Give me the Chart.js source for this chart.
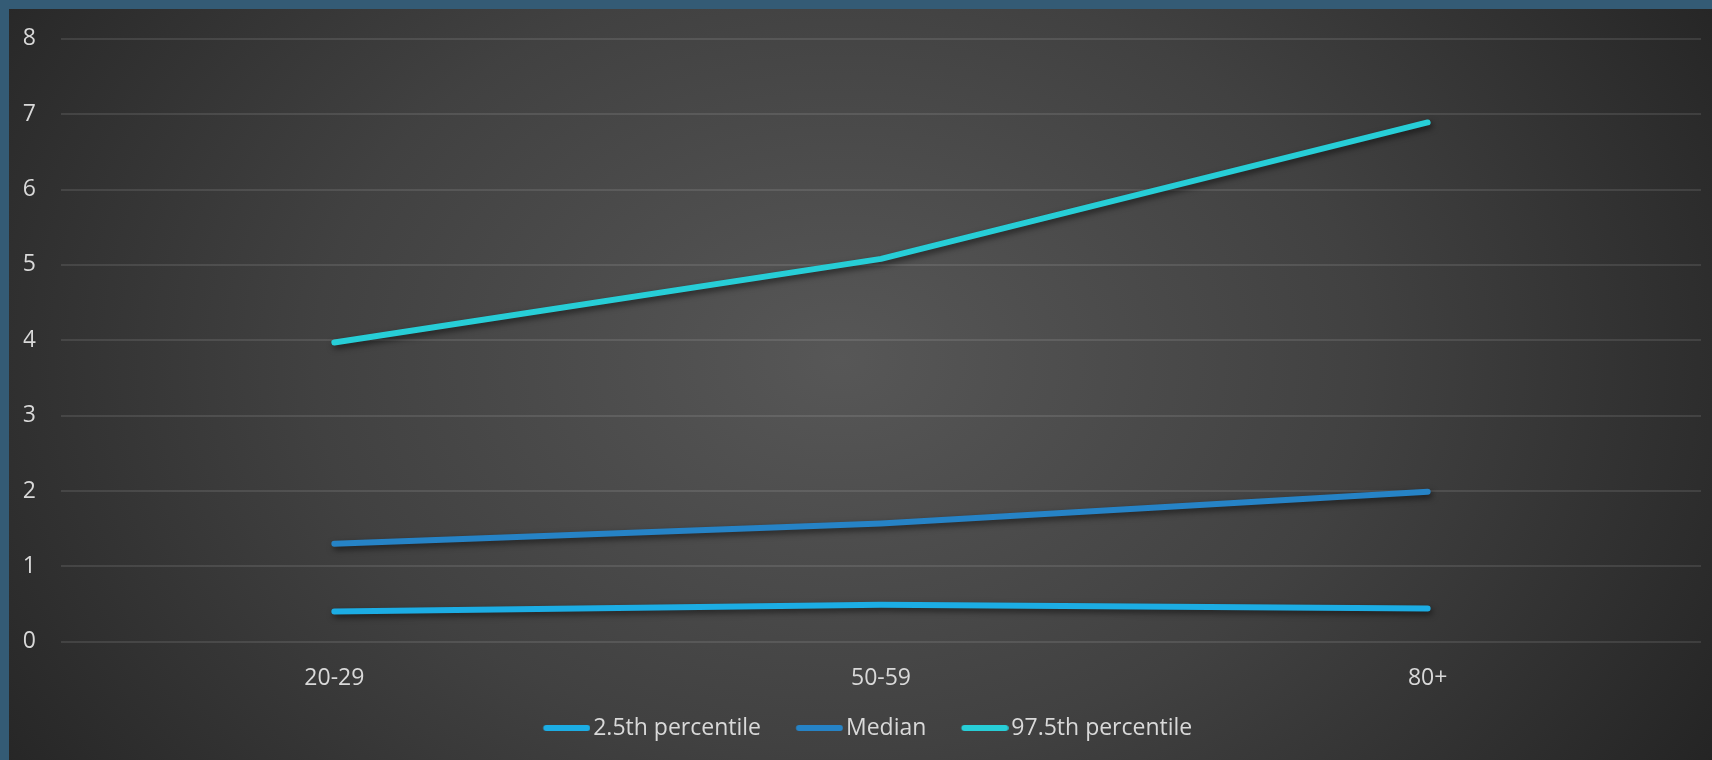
<!DOCTYPE html>
<html>
<head>
<meta charset="utf-8">
<script src="https://cdn.jsdelivr.net/npm/chart.js@4/dist/chart.umd.min.js"></script>
<style>
  html, body { margin: 0; padding: 0; background: #345B75; }
  #wrap { width: 1712px; height: 760px; }
</style>
</head>
<body>
<div id="wrap"><canvas id="c" width="1712" height="760"></canvas></div>
<script>
// Age groups along the x axis
const categories = ['20-29', '50-59', '80+'];

// Series values per age group
const p025Values = [0.40, 0.49, 0.44];
const medianValues = [1.30, 1.57, 1.99];
const p975Values = [3.97, 5.08, 6.89];

const seriesNames = ['2.5th percentile', 'Median', '97.5th percentile'];
const seriesColors = ['#1CADE4', '#2683C6', '#27CED7'];

// Y axis range
const yMin = 0;
const yMax = 8;
const yStep = 1;

const textColor = '#D9D9D9';
const FONT = "'Open Sans', 'Noto Sans', sans-serif";
const FONT_SIZE = 23;

// Legend marker geometry: reserved box width, drawn line length, gap to text
const LEGEND_BOX = 49.5;
const SWATCH_LEN = 47;
const SWATCH_GAP = 3;

// Short rounded line used as the legend marker. Chart.js centres the image
// on the reserved box, so the canvas is padded to put the line right
// against the label text.
function makeSwatch(color) {
  const center = LEGEND_BOX / 2;
  const lineEnd = LEGEND_BOX + FONT_SIZE / 2 - SWATCH_GAP;
  const lineStart = lineEnd - SWATCH_LEN;
  const halfW = Math.max(center - lineStart, lineEnd - center);
  const c = document.createElement('canvas');
  c.width = Math.round(halfW * 2);
  c.height = 10;
  const origin = center - c.width / 2;
  const g = c.getContext('2d');
  g.strokeStyle = color;
  g.lineWidth = 6;
  g.lineCap = 'round';
  g.beginPath();
  g.moveTo(lineStart - origin + 3, 5);
  g.lineTo(lineEnd - origin - 3, 5);
  g.stroke();
  return c;
}

// Frame and dark radial backdrop
const backdrop = {
  id: 'backdrop',
  beforeDraw(chart) {
    const ctx = chart.ctx;
    const w = chart.width, h = chart.height;
    ctx.save();
    ctx.fillStyle = '#345B75';
    ctx.fillRect(0, 0, w, h);
    ctx.beginPath();
    ctx.rect(9, 9, w - 9, h - 9);
    ctx.clip();
    const cx = 840, cy = 360, rx = 1050, ry = 780;
    ctx.translate(cx, cy);
    ctx.scale(1, ry / rx);
    const grad = ctx.createRadialGradient(0, 0, 0, 0, 0, rx);
    grad.addColorStop(0, '#575757');
    grad.addColorStop(0.5, '#414141');
    grad.addColorStop(1, '#232323');
    ctx.fillStyle = grad;
    ctx.fillRect(-cx - 10, -(cy + 10) * rx / ry, w + 20, (h + 20) * rx / ry);
    ctx.restore();
  }
};

// Soft drop shadow under the series lines
const lineShadow = {
  id: 'lineShadow',
  beforeDatasetsDraw(chart) {
    const ctx = chart.ctx;
    ctx.save();
    ctx.shadowColor = 'rgba(0,0,0,0.55)';
    ctx.shadowBlur = 6;
    ctx.shadowOffsetX = 2;
    ctx.shadowOffsetY = 3;
  },
  afterDatasetsDraw(chart) {
    chart.ctx.restore();
  }
};

const seriesValues = [p025Values, medianValues, p975Values];

const datasets = seriesNames.map((name, i) => ({
  label: name,
  data: seriesValues[i],
  borderColor: seriesColors[i],
  backgroundColor: seriesColors[i],
  borderWidth: 6,
  borderCapStyle: 'round',
  borderJoinStyle: 'round',
  pointRadius: 0,
  pointHoverRadius: 0,
  pointStyle: makeSwatch(seriesColors[i]),
  tension: 0,
  fill: false
}));

new Chart(document.getElementById('c'), {
  type: 'line',
  data: { labels: categories, datasets },
  plugins: [backdrop, lineShadow],
  options: {
    responsive: false,
    animation: false,
    devicePixelRatio: 1,
    layout: { padding: { left: 23.5, right: 11, top: 35, bottom: 10.5 } },
    plugins: {
      tooltip: { enabled: false },
      legend: {
        position: 'bottom',
        labels: {
          usePointStyle: true,
          pointStyleWidth: LEGEND_BOX,
          padding: 24,
          color: textColor,
          font: { family: FONT, size: FONT_SIZE }
        }
      }
    },
    scales: {
      x: {
        offset: true,
        grid: { display: false, drawTicks: false },
        border: { display: false },
        ticks: { color: textColor, font: { family: FONT, size: FONT_SIZE }, padding: 22.5, maxRotation: 0 },
        afterFit(scale) { scale.height = 50.8; }
      },
      y: {
        min: yMin,
        max: yMax,
        grid: { color: 'rgba(255,255,255,0.1)', lineWidth: 2, drawTicks: false },
        border: { display: false },
        ticks: { stepSize: yStep, color: textColor, font: { family: FONT, size: FONT_SIZE }, padding: 25 },
        afterFit(scale) { scale.width = 37.5; }
      }
    }
  }
});
</script>
</body>
</html>
